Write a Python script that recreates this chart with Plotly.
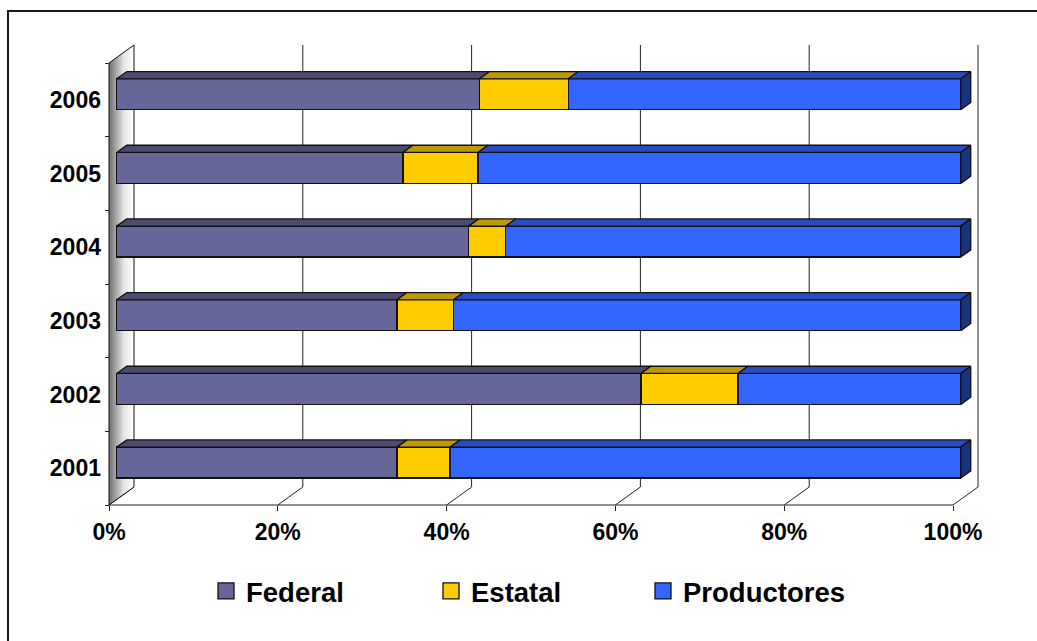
import plotly.graph_objects as go

# Share of support by source, per year (percent of total)
years = ["2001", "2002", "2003", "2004", "2005", "2006"]
federal = [33.2, 62.1, 33.2, 41.7, 33.9, 43.0]
estatal = [6.3, 11.5, 6.7, 4.4, 8.9, 10.5]
productores = [60.5, 26.4, 60.1, 53.9, 57.2, 46.5]

series_names = ["Federal", "Estatal", "Productores"]
tick_values = [0, 20, 40, 60, 80, 100]
tick_labels = ["0%", "20%", "40%", "60%", "80%", "100%"]

# Face colours: front, top (shaded), right side (darker)
front_colors = ["#666699", "#FFCC00", "#3366FF"]
top_colors = ["#4C4C73", "#BF9900", "#264CBF"]
side_color = "#1A3380"
edge = "#111111"

W, H = 1037, 641
FAMILY = "Arial, 'Liberation Sans', sans-serif"
TICK_FONT = dict(family=FAMILY, size=23, color="black", weight="bold")
LEGEND_FONT = dict(family=FAMILY, size=27.5, color="black", weight="bold")

# Front plane geometry (pixels) used to set the axis ranges
px_x0, px_per_pct = 109.0, 8.44          # 0% on the front plane, pixels per percent
px_y_lo, px_per_cat = 505.0, 73.667       # front-plane bottom boundary (-0.5), pixels per category
y_at_zero = px_y_lo - 0.5 * px_per_cat

x_range = [-px_x0 / px_per_pct, (W - px_x0) / px_per_pct]
y_range = [-(H - y_at_zero) / px_per_cat, y_at_zero / px_per_cat]

# 3-D depth of the plot box in data units, and where the bars sit inside it
DX = 25.0 / px_per_pct
DY = 18.0 / px_per_cat
bar_front, bar_depth = 0.31, 0.40
bar_width = 0.42
bdx, bdy = bar_depth * DX, bar_depth * DY

n = len(years)
pos = list(range(n))
lo, hi = -0.5, n - 0.5
boundaries = [k - 0.5 for k in range(n + 1)]

fig = go.Figure()

# Side wall with a gradient fill
fig.add_trace(go.Scatter(
    x=[0, 0, DX, DX, 0], y=[lo, hi, hi + DY, lo + DY, lo],
    mode="lines", fill="toself",
    fillgradient=dict(type="horizontal", colorscale=[[0, "#6e6e6e"], [0.6, "#e6e6e6"], [1, "#ffffff"]]),
    line=dict(color=edge, width=1), hoverinfo="skip", showlegend=False,
))

# Back-wall gridlines and floor diagonals
grid_shapes = []
for v in tick_values:
    if v > 0:
        grid_shapes.append(dict(type="line", xref="x", yref="y", layer="below",
                                x0=v + DX, x1=v + DX, y0=lo + DY, y1=hi + DY,
                                line=dict(color="#222222", width=1)))
    grid_shapes.append(dict(type="line", xref="x", yref="y", layer="below",
                            x0=v, x1=v + DX, y0=lo, y1=lo + DY,
                            line=dict(color="#222222", width=1)))
# Floor front edge (x axis line)
grid_shapes.append(dict(type="line", xref="x", yref="y", layer="below",
                        x0=0, x1=100, y0=lo, y1=lo, line=dict(color="#222222", width=1)))
# Chart frame
grid_shapes.append(dict(type="rect", xref="paper", yref="paper",
                        x0=8 / W, x1=1.2, y0=-0.2, y1=1 - 11 / H,
                        line=dict(color="#1a1a1a", width=2), layer="below"))

# Front faces of the stacked bars
all_series = [federal, estatal, productores]
for name, vals, col in zip(series_names, all_series, front_colors):
    fig.add_trace(go.Bar(
        x=vals, y=pos, orientation="h", name=name, width=bar_width,
        xaxis="x2", yaxis="y2", showlegend=False,
        marker=dict(color=col, line=dict(color=edge, width=1.3)),
        hoverinfo="skip",
    ))

# Top faces of each stacked segment
start = [0.0] * n
for vals, col in zip(all_series, top_colors):
    xs, ys = [], []
    for i, v in enumerate(vals):
        a, b = start[i], start[i] + v
        yt = i + bar_width / 2
        xs += [a, b, b + bdx, a + bdx, a, None]
        ys += [yt, yt, yt + bdy, yt + bdy, yt, None]
        start[i] = b
    fig.add_trace(go.Scatter(
        x=xs, y=ys, xaxis="x2", yaxis="y2", mode="lines", fill="toself",
        fillcolor=col, line=dict(color=edge, width=1.3),
        hoverinfo="skip", showlegend=False,
    ))

# Right-hand end faces of the last segment
xs, ys = [], []
for i in range(n):
    e = start[i]
    yb, yt = i - bar_width / 2, i + bar_width / 2
    xs += [e, e, e + bdx, e + bdx, e, None]
    ys += [yb, yt, yt + bdy, yb + bdy, yb, None]
fig.add_trace(go.Scatter(
    x=xs, y=ys, xaxis="x2", yaxis="y2", mode="lines", fill="toself",
    fillcolor=side_color, line=dict(color=edge, width=1.3),
    hoverinfo="skip", showlegend=False,
))

# Legend entries: one square key per series
legend_ids = ["legend", "legend2", "legend3"]
for name, col, lg in zip(series_names, front_colors, legend_ids):
    fig.add_trace(go.Scatter(
        x=[None], y=[None], mode="markers", name=name, legend=lg,
        marker=dict(symbol="square", size=16, color=col, line=dict(color=edge, width=1.3)),
        hoverinfo="skip",
    ))

legend_y = 1 - 591 / H
legend_common = dict(orientation="h", yanchor="middle", y=legend_y, xanchor="left",
                     font=LEGEND_FONT, bgcolor="rgba(0,0,0,0)", borderwidth=0,
                     itemsizing="trace")

fig.update_layout(
    width=W, height=H,
    margin=dict(l=0, r=0, t=0, b=0, pad=0),
    paper_bgcolor="white", plot_bgcolor="white",
    barmode="stack",
    font=TICK_FONT,
    shapes=grid_shapes,
    xaxis=dict(range=x_range, domain=[0, 1], anchor="free", position=1 - px_y_lo / H,
               tickmode="array", tickvals=tick_values, ticktext=tick_labels,
               ticks="outside", ticklen=5, tickcolor="#222222",
               showgrid=False, zeroline=False, showline=False,
               ticklabelstandoff=1, tickfont=TICK_FONT, fixedrange=True),
    yaxis=dict(range=y_range, domain=[0, 1], anchor="free", position=px_x0 / W,
               tickmode="array", tickvals=pos, ticktext=years, ticks="",
               minor=dict(tickmode="array", tickvals=boundaries, ticks="outside",
                          ticklen=4, tickcolor="#222222", showgrid=False),
               showgrid=False, zeroline=False, showline=False,
               ticklabelstandoff=8, tickfont=TICK_FONT, fixedrange=True),
    xaxis2=dict(range=[x_range[0] - bar_front * DX, x_range[1] - bar_front * DX],
                overlaying="x", visible=False, fixedrange=True),
    yaxis2=dict(range=[y_range[0] - bar_front * DY, y_range[1] - bar_front * DY],
                overlaying="y", visible=False, fixedrange=True),
    legend=dict(x=206 / W, **legend_common),
    legend2=dict(x=431 / W, **legend_common),
    legend3=dict(x=643 / W, **legend_common),
)

fig.write_html("out.html")
